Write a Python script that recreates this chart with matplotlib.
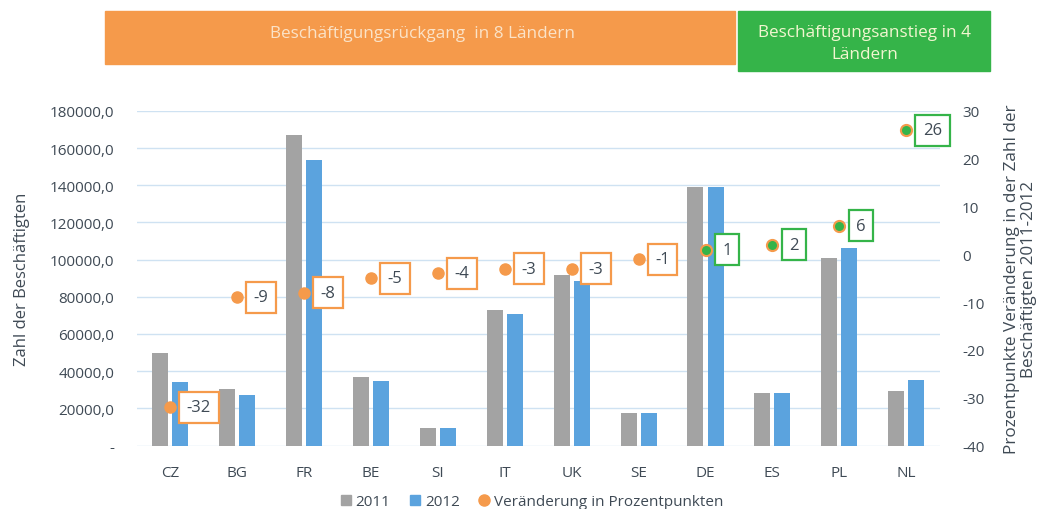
import matplotlib.pyplot as plt
from matplotlib.patches import Rectangle
from matplotlib.lines import Line2D
import numpy as np

plt.rcParams['font.family'] = ['Open Sans', 'DejaVu Sans']
plt.rcParams['axes.unicode_minus'] = False

# data
countries = ['CZ', 'BG', 'FR', 'BE', 'SI', 'IT', 'UK', 'SE', 'DE', 'ES', 'PL', 'NL']
emp_2011 = [49700, 30500, 166900, 37100, 9300, 73100, 91900, 17500, 139200, 28300, 100900, 29400]
emp_2012 = [34100, 27400, 153400, 34800, 9300, 70900, 88700, 17500, 139200, 28300, 106000, 35300]
change_pp = [-32, -9, -8, -5, -4, -3, -3, -1, 1, 2, 6, 26]

grey = '#a3a3a3'
blue = '#5ba3de'
orange = '#f59a4b'
green = '#35b449'
txt = '#3f4a55'

fig = plt.figure(figsize=(10.43, 5.10), dpi=100)
ax = fig.add_axes([0.131, 0.1245, 0.770, 0.656])
ax2 = ax.twinx()

x = np.arange(len(countries))
ax.bar(x - 0.15, emp_2011, width=0.24, color=grey, zorder=2)
ax.bar(x + 0.15, emp_2012, width=0.24, color=blue, zorder=2)

ax.set_xlim(-0.5, 11.5)
ax.set_ylim(0, 180000)
ax.set_yticks(np.arange(0, 180001, 20000))
ax.set_yticklabels(['-'] + ['%d,0' % v for v in range(20000, 180001, 20000)])
ax.grid(axis='y', color='#cfe2f2', lw=1, zorder=0)
ax.set_xticks(x)
ax.set_xticklabels(countries)
ax.tick_params(axis='both', length=0, colors=txt, labelsize=11)
ax.tick_params(axis='y', pad=16)
ax.tick_params(axis='x', pad=14)
ax.set_ylabel('Zahl der Beschäftigten', color=txt, fontsize=12, labelpad=14)

ax2.set_ylim(-40, 30)
ax2.set_yticks(range(-40, 31, 10))
ax2.tick_params(axis='y', length=0, colors=txt, labelsize=11, pad=16)
ax2.set_ylabel('Prozentpunkte Veränderung in der Zahl der\nBeschäftigten 2011-2012',
               color=txt, fontsize=12.3, labelpad=14, linespacing=1.1)

for a in (ax, ax2):
    for s in a.spines.values():
        s.set_visible(False)

for xi, v in zip(x, change_pp):
    if v < 0:
        ax2.plot(xi, v, 'o', ms=8, color=orange, zorder=5)
        ec = orange
    else:
        ax2.plot(xi, v, 'o', ms=8, color=green, mec=orange, mew=1.5, zorder=5)
        ec = green
    ax2.annotate(str(v), (xi, v), xytext=(12, 0), textcoords='offset points',
                 ha='left', va='center', fontsize=12, color=txt,
                 bbox=dict(boxstyle='square,pad=0.45', fc='white', ec=ec, lw=1.6))

# header banners
fig.patches.append(Rectangle((105 / 1043, 1 - 65 / 510), 630 / 1043, 53 / 510,
                             transform=fig.transFigure, color=orange, zorder=0))
fig.patches.append(Rectangle((738 / 1043, 1 - 72 / 510), 252 / 1043, 60 / 510,
                             transform=fig.transFigure, color=green, zorder=0))
fig.text(422 / 1043, 1 - 34 / 510, 'Beschäftigungsrückgang  in 8 Ländern',
         ha='center', va='center', color='#fbe3c8', fontsize=12.3)
fig.text(865 / 1043, 1 - 44 / 510, 'Beschäftigungsanstieg in 4\nLändern',
         ha='center', va='center', color='#f2f6d0', fontsize=12.3, linespacing=1.45)

handles = [
    Line2D([], [], marker='s', ls='', color=grey, ms=7),
    Line2D([], [], marker='s', ls='', color=blue, ms=7),
    Line2D([], [], marker='o', ls='', color=orange, ms=8),
]
fig.legend(handles, ['2011', '2012', 'Veränderung in Prozentpunkten'],
           loc='center', bbox_to_anchor=(530 / 1043, 1 - 503 / 510), ncol=3,
           frameon=False, fontsize=11, handletextpad=0.05, columnspacing=1.0,
           handlelength=1.2, labelcolor=txt)

fig.savefig('out.png', dpi=100)
